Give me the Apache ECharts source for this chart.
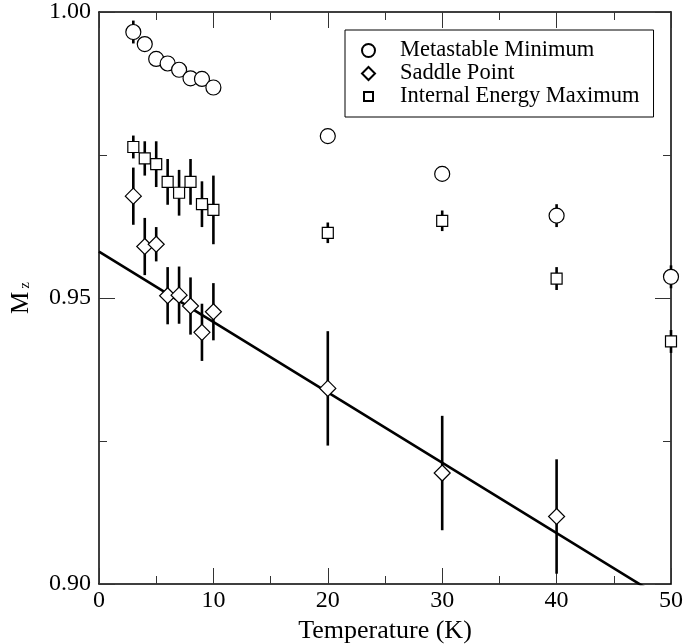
<!DOCTYPE html>
<html>
<head>
<meta charset="utf-8">
<script src="https://cdn.jsdelivr.net/npm/echarts@6/dist/echarts.min.js"></script>
<style>
    html, body { margin: 0; padding: 0; background: #fff; }
    #chart { width: 683px; height: 644px; }
</style>
</head>
<body>
<div id="chart"></div>
<script>
// temperatures (K)
const temps = [3, 4, 5, 6, 7, 8, 9, 10, 20, 30, 40, 50];
const saddleTemps = [3, 4, 5, 6, 7, 8, 9, 10, 20, 30, 40];

// Metastable minimum
const metaMin = [0.9965, 0.9944, 0.9918, 0.9910, 0.9899, 0.9884, 0.9883, 0.9868, 0.9783, 0.9717, 0.9644, 0.9537];
const metaErr = [0.002, 0.001, 0.001, 0.001, 0.001, 0.001, 0.001, 0.001, 0.001, 0.001, 0.002, 0.002];

// Saddle point
const saddle = [0.9678, 0.9590, 0.9594, 0.9504, 0.9505, 0.9486, 0.9440, 0.9476, 0.9342, 0.9194, 0.9118];
const saddleErr = [0.005, 0.005, 0.003, 0.005, 0.005, 0.005, 0.005, 0.005, 0.010, 0.010, 0.010];

// Internal energy maximum
const internalMax = [0.9764, 0.9744, 0.9734, 0.9703, 0.9684, 0.9703, 0.9664, 0.9654, 0.9614, 0.9635, 0.9534, 0.9424];
const internalErr = [0.002, 0.003, 0.004, 0.004, 0.004, 0.004, 0.004, 0.006, 0.0018, 0.0018, 0.002, 0.002];

// linear fit through saddle points (endpoints)
const fitT = [0, 50];
const fitM = [0.9581, 0.8966];

const serif = 'Liberation Serif';

const points = (xs, ys) => xs.map((x, i) => [x, ys[i]]);
const bars = (xs, ys, es) => xs.map((x, i) => [x, ys[i] - es[i], ys[i] + es[i]]);

const errorBars = (data) => ({
    type: 'custom',
    z: 1,
    silent: true,
    clip: false,
    data: data,
    renderItem: (params, api) => {
        const lo = api.coord([api.value(0), api.value(1)]);
        const hi = api.coord([api.value(0), api.value(2)]);
        return {
            type: 'line',
            shape: { x1: lo[0], y1: lo[1], x2: hi[0], y2: hi[1] },
            style: { stroke: '#000', lineWidth: 2.6 }
        };
    }
});

const markStyle = { color: '#fff', borderColor: '#000', borderWidth: 1.2, opacity: 1 };

const tickStyle = { color: '#333', width: 1 };

const xBase = {
    type: 'value',
    min: 0,
    max: 50,
    interval: 10,
    axisLine: { onZero: false, lineStyle: { color: '#000', width: 1.5 } },
    axisTick: { inside: true, length: 16, lineStyle: tickStyle },
    minorTick: { show: true, splitNumber: 2, length: 8, lineStyle: tickStyle },
    splitLine: { show: false }
};

const yBase = {
    type: 'value',
    min: 0.9,
    max: 1.0,
    interval: 0.05,
    axisLine: { onZero: false, lineStyle: { color: '#000', width: 1.5 } },
    axisTick: { inside: true, length: 16, lineStyle: tickStyle },
    minorTick: { show: true, splitNumber: 2, length: 8, lineStyle: tickStyle },
    splitLine: { show: false }
};

let option = {
    backgroundColor: '#fff',
    animation: false,
    grid: { left: 99, right: 12, top: 12, bottom: 60, outerBoundsMode: 'none' },
    legend: {
        orient: 'vertical',
        left: 345,
        top: 30,
        padding: [9, 14, 9, 16],
        itemGap: 0,
        itemWidth: 13,
        itemHeight: 13,
        borderColor: '#000',
        borderWidth: 1,
        textStyle: { fontFamily: serif, fontSize: 22.5, color: '#000', padding: [0, 0, 0, 20], lineHeight: 22 },
        data: [
            { name: 'Metastable Minimum', icon: 'circle' },
            { name: 'Saddle Point', icon: 'diamond' },
            { name: 'Internal Energy Maximum', icon: 'path://M0,0M13,13M2,2L11,2L11,11L2,11Z' }
        ]
    },
    xAxis: [
        Object.assign({}, xBase, {
            position: 'bottom',
            name: 'Temperature (K)',
            nameLocation: 'middle',
            nameGap: 17,
            nameTextStyle: { fontFamily: serif, fontSize: 26, color: '#000', verticalAlign: 'top' },
            axisLabel: { margin: 5, fontFamily: serif, fontSize: 24, color: '#000' }
        }),
        Object.assign({}, xBase, { position: 'top', axisLabel: { show: false } })
    ],
    yAxis: [
        Object.assign({}, yBase, {
            position: 'left',
            name: '{a|M}{b|z}',
            nameLocation: 'middle',
            nameGap: 66,
            nameTextStyle: {
                rich: {
                    a: { fontFamily: serif, fontSize: 25, color: '#000', lineHeight: 24, verticalAlign: 'top' },
                    b: { fontFamily: serif, fontSize: 15, color: '#000', lineHeight: 15, padding: [22, 0, 0, 3], verticalAlign: 'bottom' }
                }
            },
            axisLabel: {
                margin: 8,
                fontFamily: serif,
                fontSize: 24,
                color: '#000',
                formatter: (v) => v.toFixed(2)
            }
        }),
        Object.assign({}, yBase, { position: 'right', axisLabel: { show: false } })
    ],
    series: [
        errorBars(bars(temps, metaMin, metaErr)),
        errorBars(bars(saddleTemps, saddle, saddleErr)),
        errorBars(bars(temps, internalMax, internalErr)),
        {
            type: 'line',
            z: 2,
            silent: true,
            symbol: 'none',
            data: points(fitT, fitM),
            lineStyle: { color: '#000', width: 2.6 }
        },
        {
            name: 'Metastable Minimum',
            type: 'scatter',
            z: 3,
            clip: false,
            symbol: 'circle',
            symbolSize: 15,
            itemStyle: markStyle,
            data: points(temps, metaMin)
        },
        {
            name: 'Saddle Point',
            type: 'scatter',
            z: 3,
            clip: false,
            symbol: 'diamond',
            symbolSize: 16,
            itemStyle: markStyle,
            data: points(saddleTemps, saddle)
        },
        {
            name: 'Internal Energy Maximum',
            type: 'scatter',
            z: 3,
            clip: false,
            symbol: 'rect',
            symbolSize: 11,
            itemStyle: markStyle,
            data: points(temps, internalMax)
        }
    ]
};

const chartInit = () => {
    let myChart = echarts.init(document.getElementById('chart'), null, { renderer: 'canvas' });
    option && myChart.setOption(option);
};

chartInit();
</script>
</body>
</html>
